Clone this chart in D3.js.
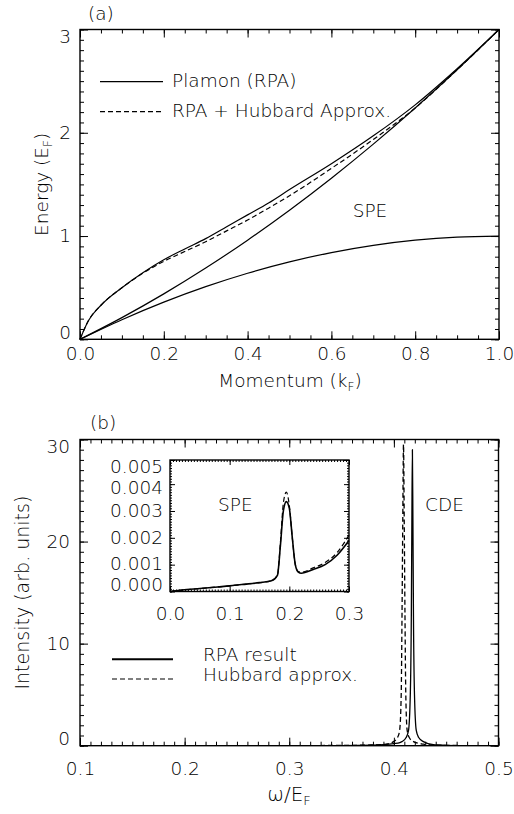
<!DOCTYPE html>
<html><head><meta charset="utf-8">
<script src="https://cdn.jsdelivr.net/npm/d3@7"></script>
<style>
html,body{margin:0;padding:0;background:#fff;}
svg text{font-family:'DejaVu Sans',sans-serif;font-weight:200;fill:#000;}
</style></head>
<body><div id="chart"></div>
<script>
// ---------- DATA ----------
// Panel (a): dispersion vs momentum
const momentum      = [0, 0.02, 0.05, 0.1, 0.15, 0.2, 0.25, 0.3, 0.35, 0.4, 0.45, 0.5, 0.6, 0.7, 0.8, 0.9, 1.0];
const plasmonRPA    = [0, 0.18, 0.33, 0.5, 0.645, 0.77, 0.875, 0.975, 1.09, 1.205, 1.32, 1.45, 1.70, 1.97, 2.27, 2.62, 3.0];
const plasmonHub    = [0, 0.18, 0.33, 0.5, 0.64, 0.755, 0.85, 0.945, 1.05, 1.155, 1.27, 1.39, 1.655, 1.935, 2.24, 2.61, 3.0];
const speMomentum   = [0, 0.1, 0.2, 0.3, 0.4, 0.5, 0.6, 0.7, 0.8, 0.9, 1.0];
const speUpper      = [0, 0.21, 0.44, 0.69, 0.96, 1.25, 1.56, 1.89, 2.24, 2.61, 3.0];
const speLower      = [0, 0.19, 0.36, 0.51, 0.64, 0.75, 0.84, 0.91, 0.96, 0.99, 1.0];
const xTicksA = [0, 0.2, 0.4, 0.6, 0.8, 1.0];
const xTickLabelsA = ["0.0", "0.2", "0.4", "0.6", "0.8", "1.0"];
const yTicksA = [0, 1, 2, 3];
const yTickLabelsA = ["0", "1", "2", "3"];
const legendA = ["Plamon (RPA)", "RPA + Hubbard Approx."];

// Panel (b): intensity vs omega (CDE peaks)
const omegaRPA = [0.10, 0.35, 0.38, 0.39, 0.40, 0.4057, 0.4077, 0.4117, 0.414, 0.4157, 0.4167, 0.4172, 0.4177, 0.4182, 0.4187, 0.4197, 0.4214, 0.4237, 0.4282, 0.4377, 0.45, 0.47, 0.5];
const intRPA   = [0, 0.01, 0.05, 0.1, 0.2, 0.3, 0.4, 0.8, 1.5, 5, 13, 22, 29, 22, 13, 5, 1.5, 0.8, 0.4, 0.1, 0.04, 0.01, 0];
const omegaHub = [0.10, 0.35, 0.37, 0.38, 0.39, 0.393, 0.3997, 0.4035, 0.4055, 0.407, 0.4078, 0.4085, 0.4092, 0.4099, 0.4106, 0.4114, 0.4127, 0.4147, 0.4187, 0.4283, 0.44, 0.46, 0.5];
const intHub   = [0, 0.02, 0.05, 0.08, 0.12, 0.15, 0.4, 0.8, 1.5, 5, 13, 22, 29.5, 22, 13, 5, 1.5, 0.8, 0.4, 0.15, 0.06, 0.02, 0];
const xTicksB = [0.1, 0.2, 0.3, 0.4, 0.5];
const xTickLabelsB = ["0.1", "0.2", "0.3", "0.4", "0.5"];
const yTicksB = [0, 10, 20, 30];
const yTickLabelsB = ["0", "10", "20", "30"];
const legendB = ["RPA result", "Hubbard approx."];

// Inset (SPE region)
const omegaInset = [0, 0.02, 0.05, 0.08, 0.1, 0.12, 0.15, 0.17, 0.18, 0.185, 0.19, 0.195, 0.2, 0.205, 0.21, 0.215, 0.22, 0.24, 0.26, 0.28, 0.3];
const insetRPA   = [0, 0.00005, 0.00011, 0.00017, 0.00021, 0.00026, 0.00033, 0.00040, 0.0006, 0.0017, 0.0030, 0.00335, 0.0031, 0.0020, 0.0010, 0.00072, 0.00068, 0.00082, 0.00100, 0.00135, 0.0019];
const insetHub   = [0, 0.00005, 0.00011, 0.00017, 0.00021, 0.00026, 0.00033, 0.00040, 0.0006, 0.0018, 0.0033, 0.0037, 0.0032, 0.0020, 0.0010, 0.00074, 0.00072, 0.00088, 0.00108, 0.00145, 0.0021];
const xTicksInset = [0, 0.1, 0.2, 0.3];
const xTickLabelsInset = ["0.0", "0.1", "0.2", "0.3"];
const yTicksInset = [0, 0.001, 0.002, 0.003, 0.004, 0.0049];
const yTickLabelsInset = ["0.000", "0.001", "0.002", "0.003", "0.004", "0.005"];

// ---------- DRAW ----------
const W = 514, H = 814;
const svg = d3.select("#chart").append("svg").attr("width", W).attr("height", H);
const FS = 18.5;

function frameAxes(g, x, y, o) {
  const majLen = o.majLen, minLen = o.minLen;
  const mk = (axis, vals, len) => axis.tickValues(vals).tickSize(-len).tickFormat("");
  g.append("g").attr("transform", `translate(0,${o.bottom})`).call(mk(d3.axisBottom(x), o.xMinor, minLen));
  g.append("g").attr("transform", `translate(0,${o.top})`).call(mk(d3.axisTop(x), o.xMinor, minLen));
  g.append("g").attr("transform", `translate(${o.left},0)`).call(mk(d3.axisLeft(y), o.yMinor, minLen));
  g.append("g").attr("transform", `translate(${o.right},0)`).call(mk(d3.axisRight(y), o.yMinor, minLen));
  g.append("g").attr("transform", `translate(0,${o.top})`).call(mk(d3.axisTop(x), o.xMajor, majLen));
  g.append("g").attr("transform", `translate(${o.right},0)`).call(mk(d3.axisRight(y), o.yMajor, majLen));
  const bx = g.append("g").attr("transform", `translate(0,${o.bottom})`)
    .call(d3.axisBottom(x).tickValues(o.xMajor).tickSize(-majLen).tickPadding(o.xPad)
      .tickFormat((d, i) => o.xLabels[i]));
  const ly = g.append("g").attr("transform", `translate(${o.left},0)`)
    .call(d3.axisLeft(y).tickValues(o.yMajor).tickSize(-majLen).tickPadding(o.yPad)
      .tickFormat((d, i) => o.yLabels[i]));
  [bx, ly].forEach(a => {
    a.selectAll("text").attr("font-size", o.fs).attr("fill", "#000");
  });
  g.selectAll(".domain").remove();
  g.selectAll(".tick line").attr("stroke", "#000").attr("stroke-width", 1);
  const pos = o.yMajor.map(v => y(v));
  const lab = pos.map(p => Math.max(o.top + 7, Math.min(o.bottom - 7, p)));
  const gap = o.minGap || 0;
  if (gap) {
    const idx = lab.map((v, i) => i).sort((a, b) => lab[a] - lab[b]);
    for (let k = 1; k < idx.length; k++) {
      const p = lab[idx[k - 1]], c = idx[k];
      if (lab[c] - p < gap && k < idx.length / 2) lab[c] = p + gap;
    }
    for (let k = idx.length - 2; k >= 0; k--) {
      const n = lab[idx[k + 1]], c = idx[k];
      if (n - lab[c] < gap && k >= idx.length / 2 - 1) lab[c] = n - gap;
    }
  }
  ly.selectAll(".tick").each(function (d, i) {
    d3.select(this).select("text").attr("y", lab[i] - pos[i]);
  });
  g.append("rect").attr("x", o.left).attr("y", o.top)
    .attr("width", o.right - o.left).attr("height", o.bottom - o.top)
    .attr("fill", "none").attr("stroke", "#000").attr("stroke-width", 1.4);
}

// ===== Panel (a) =====
const A = {left: 80, right: 499, top: 29.5, bottom: 339.3};
const xA = d3.scaleLinear().domain([0, 1]).range([A.left, A.right]);
const yA = d3.scaleLinear().domain([0, 3]).range([A.bottom, A.top]);
const gA = svg.append("g");
frameAxes(gA, xA, yA, Object.assign({}, A, {
  xMajor: xTicksA, xMinor: d3.range(0, 1.0001, 0.05), yMajor: yTicksA, yMinor: d3.range(0, 3.0001, 0.1),
  xLabels: xTickLabelsA, yLabels: yTickLabelsA, majLen: 8, minLen: 4, xPad: 8, yPad: 9, fs: FS
}));
const lineA = (xs, ys) => d3.line().x((d, i) => xA(xs[i])).y((d, i) => yA(ys[i])).curve(d3.curveMonotoneX)(ys);
const curvesA = gA.append("g").attr("fill", "none").attr("stroke", "#000").attr("stroke-width", 1.2);
curvesA.append("path").attr("d", lineA(speMomentum, speUpper));
curvesA.append("path").attr("d", lineA(speMomentum, speLower));
curvesA.append("path").attr("d", lineA(momentum, plasmonRPA));
curvesA.append("path").attr("d", lineA(momentum, plasmonHub)).attr("stroke-dasharray", "5,3");

gA.append("text").attr("x", 88).attr("y", 20).attr("font-size", FS).text("(a)");
gA.append("text").attr("x", 370).attr("y", 217).attr("text-anchor", "middle").attr("font-size", FS).text("SPE");
const legA = gA.append("g");
legA.append("line").attr("x1", 100).attr("x2", 163).attr("y1", 81.7).attr("y2", 81.7).attr("stroke", "#000").attr("stroke-width", 1.2);
legA.append("line").attr("x1", 100).attr("x2", 163).attr("y1", 111.7).attr("y2", 111.7).attr("stroke", "#000").attr("stroke-width", 1.2).attr("stroke-dasharray", "5,3");
legA.append("text").attr("x", 172).attr("y", 87).attr("font-size", FS).text(legendA[0]);
legA.append("text").attr("x", 172).attr("y", 117).attr("font-size", FS).text(legendA[1]);
const tA = gA.append("text").attr("x", 290).attr("y", 387).attr("text-anchor", "middle").attr("font-size", FS);
tA.append("tspan").text("Momentum (k");
tA.append("tspan").attr("font-size", 12).attr("dy", 4).text("F");
tA.append("tspan").attr("dy", -4).text(")");
const yTA = gA.append("text").attr("transform", "translate(48,184.4) rotate(-90)").attr("text-anchor", "middle").attr("font-size", FS);
yTA.append("tspan").text("Energy (E");
yTA.append("tspan").attr("font-size", 12).attr("dy", 4).text("F");
yTA.append("tspan").attr("dy", -4).text(")");

// ===== Panel (b) =====
const B = {left: 80, right: 498.5, top: 439.5, bottom: 745.7};
const xB = d3.scaleLinear().domain([0.1, 0.5]).range([B.left, B.right]);
const yB = d3.scaleLinear().domain([0, 30]).range([B.bottom, B.top]);
const gB = svg.append("g");
const clipB = svg.append("clipPath").attr("id", "clipB");
clipB.append("rect").attr("x", B.left).attr("y", B.top).attr("width", B.right - B.left).attr("height", B.bottom - B.top);
const lineB = (xs, ys) => d3.line().x((d, i) => xB(xs[i])).y((d, i) => yB(ys[i])).curve(d3.curveMonotoneX)(ys);
const curvesB = gB.append("g").attr("clip-path", "url(#clipB)").attr("fill", "none").attr("stroke", "#000");
curvesB.append("path").attr("d", lineB(omegaHub, intHub)).attr("stroke-width", 1.3).attr("stroke-dasharray", "5,3");
curvesB.append("path").attr("d", lineB(omegaRPA, intRPA)).attr("stroke-width", 1.3);
frameAxes(gB, xB, yB, Object.assign({}, B, {
  xMajor: xTicksB, xMinor: d3.range(0.1, 0.5001, 0.01), yMajor: yTicksB, yMinor: d3.range(0, 30.001, 1),
  xLabels: xTickLabelsB, yLabels: yTickLabelsB, majLen: 8, minLen: 4, xPad: 16, yPad: 10, fs: FS
}));
gB.append("text").attr("x", 90).attr("y", 429).attr("font-size", FS).text("(b)");
gB.append("text").attr("x", 425).attr("y", 511).attr("font-size", FS).text("CDE");
const legB = gB.append("g");
legB.append("line").attr("x1", 112).attr("x2", 173).attr("y1", 659.3).attr("y2", 659.3).attr("stroke", "#000").attr("stroke-width", 2);
legB.append("line").attr("x1", 112).attr("x2", 173).attr("y1", 679).attr("y2", 679).attr("stroke", "#000").attr("stroke-width", 1.2).attr("stroke-dasharray", "5,3");
legB.append("text").attr("x", 203).attr("y", 661).attr("font-size", FS).text(legendB[0]);
legB.append("text").attr("x", 203).attr("y", 681).attr("font-size", FS).text(legendB[1]);
const tB = gB.append("text").attr("x", 289).attr("y", 801).attr("text-anchor", "middle").attr("font-size", 20);
tB.append("tspan").text("ω/E");
tB.append("tspan").attr("font-size", 13).attr("dy", 4).text("F");
gB.append("text").attr("transform", "translate(29,592.6) rotate(-90)").attr("text-anchor", "middle").attr("font-size", 19)
  .text("Intensity (arb. units)");

// ===== Inset =====
const I = {left: 170, right: 349, top: 460, bottom: 591.5};
const xI = d3.scaleLinear().domain([0, 0.3]).range([I.left, I.right]);
const yI = d3.scaleLinear().domain([0, 0.0049]).range([I.bottom, I.top]);
const gI = svg.append("g");
gI.append("rect").attr("x", I.left).attr("y", I.top).attr("width", I.right - I.left).attr("height", I.bottom - I.top).attr("fill", "#fff");
const lineI = (xs, ys) => d3.line().x((d, i) => xI(xs[i])).y((d, i) => yI(ys[i])).curve(d3.curveMonotoneX)(ys);
const curvesI = gI.append("g").attr("fill", "none").attr("stroke", "#000");
curvesI.append("path").attr("d", lineI(omegaInset, insetHub)).attr("stroke-width", 1.2).attr("stroke-dasharray", "5,3");
curvesI.append("path").attr("d", lineI(omegaInset, insetRPA)).attr("stroke-width", 1.6);
frameAxes(gI, xI, yI, Object.assign({}, I, {
  xMajor: xTicksInset, xMinor: d3.range(0, 0.3001, 0.005), yMajor: yTicksInset, yMinor: d3.range(0, 0.00491, 0.0001),
  xLabels: xTickLabelsInset, yLabels: yTickLabelsInset, majLen: 5, minLen: 2, xPad: 15, yPad: 7, fs: FS, minGap: 21
}));
gI.append("text").attr("x", 218).attr("y", 511).attr("font-size", FS).text("SPE");
</script>
</body></html>
